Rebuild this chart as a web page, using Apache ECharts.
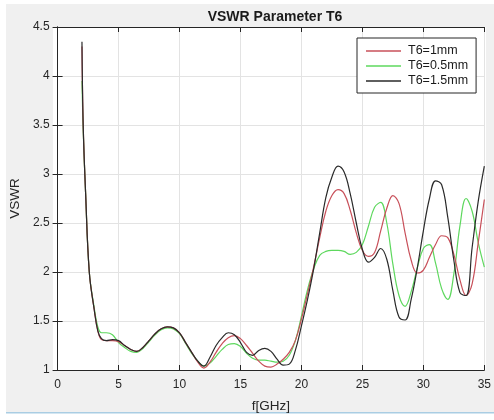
<!DOCTYPE html>
<html>
<head>
<meta charset="utf-8">
<script src="https://cdn.jsdelivr.net/npm/echarts@6/dist/echarts.min.js"></script>
<style>
html,body{margin:0;padding:0;background:#fff;}
#c{width:494px;height:420px;}
</style>
</head>
<body>
<div id="c"></div>
<script>
const freq = [2, 2.1, 2.3, 2.6, 3, 3.3, 3.6, 4, 4.5, 5, 5.5, 6, 6.5, 7, 7.5, 8, 8.5, 9, 9.5, 10, 10.5, 11, 11.5, 12, 12.5, 13, 13.5, 14, 14.5, 15, 15.5, 16, 16.5, 17, 17.5, 18, 18.5, 19, 19.5, 20, 20.5, 21, 21.5, 22, 22.5, 23, 23.5, 24, 24.5, 25, 25.5, 26, 26.5, 27, 27.5, 28, 28.5, 29, 29.5, 30, 30.5, 31, 31.5, 32, 32.5, 33, 33.5, 34, 34.5, 35];

const vswrT6_1mm = [4.30, 3.5, 2.8, 2.0, 1.62, 1.40, 1.31, 1.30, 1.30, 1.29, 1.25, 1.21, 1.19, 1.23, 1.30, 1.37, 1.42, 1.44, 1.43, 1.38, 1.28, 1.18, 1.08, 1.02, 1.08, 1.18, 1.27, 1.33, 1.35, 1.32, 1.25, 1.17, 1.09, 1.04, 1.03, 1.06, 1.11, 1.18, 1.30, 1.52, 1.78, 2.05, 2.35, 2.62, 2.78, 2.84, 2.80, 2.63, 2.40, 2.22, 2.16, 2.20, 2.42, 2.65, 2.78, 2.70, 2.40, 2.12, 1.99, 2.02, 2.15, 2.28, 2.37, 2.35, 2.18, 1.92, 1.76, 1.88, 2.30, 2.74];

const vswrT6_05mm = [3.95, 3.45, 2.8, 2.0, 1.64, 1.44, 1.38, 1.38, 1.36, 1.28, 1.23, 1.19, 1.18, 1.22, 1.29, 1.36, 1.41, 1.43, 1.42, 1.37, 1.27, 1.17, 1.09, 1.04, 1.07, 1.14, 1.21, 1.26, 1.27, 1.24, 1.17, 1.12, 1.10, 1.10, 1.09, 1.08, 1.09, 1.15, 1.30, 1.55, 1.82, 2.03, 2.17, 2.21, 2.22, 2.22, 2.21, 2.18, 2.20, 2.28, 2.47, 2.66, 2.71, 2.50, 2.08, 1.76, 1.65, 1.80, 2.04, 2.24, 2.28, 2.09, 1.83, 1.72, 1.98, 2.47, 2.75, 2.62, 2.30, 2.05];

const vswrT6_15mm = [4.35, 3.5, 2.8, 2.0, 1.62, 1.40, 1.32, 1.30, 1.31, 1.30, 1.25, 1.21, 1.19, 1.23, 1.30, 1.37, 1.42, 1.44, 1.43, 1.38, 1.28, 1.18, 1.09, 1.04, 1.13, 1.25, 1.33, 1.38, 1.36, 1.28, 1.18, 1.15, 1.20, 1.22, 1.19, 1.11, 1.05, 1.06, 1.20, 1.45, 1.72, 2.03, 2.40, 2.76, 2.97, 3.08, 3.02, 2.80, 2.50, 2.23, 2.10, 2.15, 2.24, 2.13, 1.81, 1.54, 1.51, 1.72, 2.04, 2.42, 2.75, 2.93, 2.89, 2.56, 2.12, 1.79, 1.76, 2.25, 2.72, 3.08];

const seriesNames = ['T6=1mm', 'T6=0.5mm', 'T6=1.5mm'];
const seriesColors = ['#c8505a', '#5ed85e', '#2a2a2a'];
const xTicks = [0, 5, 10, 15, 20, 25, 30, 35];
const yTicks = [1, 1.5, 2, 2.5, 3, 3.5, 4, 4.5];

const FONT = 'Liberation Sans, Arial, Helvetica, sans-serif';
const zip = (ys) => freq.map((f, i) => [f, ys[i]]);
const allY = [vswrT6_1mm, vswrT6_05mm, vswrT6_15mm];

const chart = echarts.init(document.getElementById('c'), null, {renderer: 'canvas'});
const axisLine = {show: true, lineStyle: {color: '#262626', width: 1}};
const gridLine = {show: true, lineStyle: {color: '#e3e3e3', width: 1}};
const tickIn = {show: true, inside: true, length: 5, lineStyle: {color: '#262626'}};

chart.setOption({
  animation: false,
  backgroundColor: '#ffffff',
  graphic: [
    {type: 'rect', z: -10, shape: {x: 6, y: 4, width: 488, height: 408}, style: {fill: '#f0f0f0'}},
    {type: 'rect', z: -9, shape: {x: 6, y: 412, width: 488, height: 1.5}, style: {fill: '#a9cde3'}},
    {type: 'rect', z: -8, shape: {x: 53, y: 27, width: 433, height: 343}, style: {fill: '#ffffff'}}
  ],
  title: {
    text: 'VSWR Parameter T6',
    left: 270, top: 5, textAlign: 'center',
    textStyle: {fontFamily: FONT, fontSize: 14, fontWeight: 'bold', color: '#1a1a1a'}
  },
  legend: {
    data: seriesNames.map((n, i) => ({name: n, icon: 'rect', itemStyle: {color: seriesColors[i]}})),
    orient: 'vertical',
    left: 357, top: 38,
    width: 118,
    backgroundColor: '#ffffff',
    borderColor: '#262626', borderWidth: 1, borderRadius: 0,
    padding: [6, 8, 5, 9],
    itemGap: 1,
    itemWidth: 35, itemHeight: 1.3,
    textStyle: {fontFamily: FONT, fontSize: 12.5, lineHeight: 14, color: '#1a1a1a', padding: [0, 0, 0, 2]}
  },
  grid: {left: 53, right: 8, top: 27, bottom: 50, containLabel: false},
  xAxis: [{
    type: 'value', min: 0, max: 35, interval: 5,
    name: 'f[GHz]', nameLocation: 'middle', nameGap: 29,
    nameTextStyle: {fontFamily: FONT, fontSize: 13.5, color: '#262626'},
    axisLine: axisLine, axisTick: tickIn, splitLine: gridLine,
    axisLabel: {fontFamily: FONT, fontSize: 12, color: '#262626', margin: 9}
  }, {
    type: 'value', min: 0, max: 35, interval: 5, position: 'top',
    axisLine: axisLine, axisTick: tickIn, splitLine: {show: false}, axisLabel: {show: false}
  }],
  yAxis: [{
    type: 'value', min: 1, max: 4.5, interval: 0.5,
    name: 'VSWR', nameLocation: 'middle', nameGap: 34, nameRotate: 90,
    nameTextStyle: {fontFamily: FONT, fontSize: 13.5, color: '#262626'},
    axisLine: axisLine, axisTick: tickIn, splitLine: gridLine,
    axisLabel: {fontFamily: FONT, fontSize: 12, color: '#262626', margin: 8}
  }, {
    type: 'value', min: 1, max: 4.5, interval: 0.5, position: 'right',
    axisLine: axisLine, axisTick: tickIn, splitLine: {show: false}, axisLabel: {show: false}
  }],
  series: seriesNames.map((n, i) => ({
    name: n, type: 'line', data: zip(allY[i]),
    showSymbol: false, symbol: 'none', smooth: 0.4,
    lineStyle: {color: seriesColors[i], width: 1.2},
    itemStyle: {color: seriesColors[i]},
    z: i === 2 ? 3 : (i === 0 ? 2 : 1)
  }))
});
</script>
</body>
</html>
